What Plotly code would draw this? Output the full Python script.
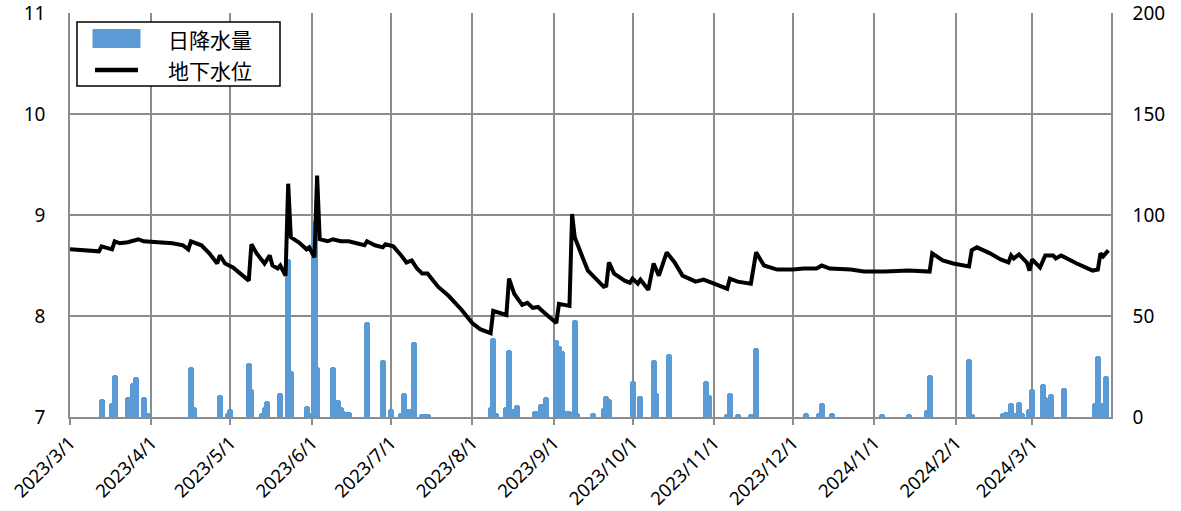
import plotly.graph_objects as go

# ---- data ----
rain_dates = [
    "2023-03-13", "2023-03-17", "2023-03-18", "2023-03-23", "2023-03-25", "2023-03-26", "2023-03-29", "2023-03-31",
    "2023-04-16", "2023-04-17", "2023-04-27", "2023-04-30", "2023-05-01", "2023-05-08", "2023-05-09", "2023-05-13",
    "2023-05-14", "2023-05-15", "2023-05-20", "2023-05-23", "2023-05-24", "2023-05-30", "2023-05-31", "2023-06-02",
    "2023-06-03", "2023-06-09", "2023-06-11", "2023-06-12", "2023-06-13", "2023-06-14", "2023-06-15", "2023-06-22",
    "2023-06-28", "2023-07-01", "2023-07-05", "2023-07-06", "2023-07-08", "2023-07-09", "2023-07-10", "2023-07-13",
    "2023-07-14", "2023-07-15", "2023-08-08", "2023-08-09", "2023-08-10", "2023-08-14", "2023-08-15", "2023-08-16",
    "2023-08-18", "2023-08-25", "2023-08-26", "2023-08-27", "2023-08-29", "2023-09-02", "2023-09-03", "2023-09-04",
    "2023-09-05", "2023-09-06", "2023-09-07", "2023-09-09", "2023-09-10", "2023-09-16", "2023-09-20", "2023-09-21",
    "2023-09-22", "2023-10-01", "2023-10-04", "2023-10-09", "2023-10-10", "2023-10-15", "2023-10-29", "2023-10-30",
    "2023-11-06", "2023-11-07", "2023-11-10", "2023-11-15", "2023-11-17", "2023-12-06", "2023-12-11", "2023-12-12",
    "2023-12-16", "2024-01-04", "2024-01-14", "2024-01-21", "2024-01-22", "2024-02-06", "2024-02-07", "2024-02-19",
    "2024-02-20", "2024-02-22", "2024-02-23", "2024-02-25", "2024-02-26", "2024-02-29", "2024-03-01", "2024-03-05",
    "2024-03-06", "2024-03-08", "2024-03-13", "2024-03-25", "2024-03-26", "2024-03-28", "2024-03-29",
]
rain_mm = [
    9, 7, 21, 10, 17, 20, 10, 2,
    25, 5, 11, 2, 4, 26.5, 14, 2,
    5, 8, 12, 78, 23, 5.6, 2, 97,
    25, 25, 8.5, 5, 3, 2.5, 2.5, 47,
    28, 4, 2, 12, 4, 4, 37, 1.5,
    1.5, 1.5, 5, 39, 2, 5, 33, 4,
    6, 3, 3, 6.5, 10, 38, 35, 32.5,
    3, 3, 3, 48, 2, 2, 4.5, 10.5,
    9, 18, 10.5, 28, 12, 31, 18, 11,
    1.5, 12, 1.5, 1.5, 34, 2, 2, 7,
    2, 1.5, 1.5, 3.5, 21, 28.5, 1.5, 2,
    2.5, 6.7, 2, 7.6, 2, 4, 14, 16.5,
    10, 11.3, 14.5, 6.7, 30, 7, 20.5,
]

gw_dates = [
    "2023-03-01", "2023-03-05", "2023-03-12", "2023-03-13", "2023-03-15", "2023-03-17", "2023-03-18", "2023-03-20",
    "2023-03-23", "2023-03-25", "2023-03-27", "2023-03-29", "2023-04-04", "2023-04-09", "2023-04-13", "2023-04-15",
    "2023-04-16", "2023-04-18", "2023-04-20", "2023-04-23", "2023-04-26", "2023-04-27", "2023-04-29", "2023-05-02",
    "2023-05-06", "2023-05-08", "2023-05-09", "2023-05-11", "2023-05-14", "2023-05-16", "2023-05-17", "2023-05-19",
    "2023-05-20", "2023-05-22", "2023-05-23", "2023-05-24", "2023-05-27", "2023-05-30", "2023-05-31", "2023-06-02",
    "2023-06-03", "2023-06-04", "2023-06-07", "2023-06-09", "2023-06-12", "2023-06-15", "2023-06-21", "2023-06-22",
    "2023-06-25", "2023-06-28", "2023-06-29", "2023-07-02", "2023-07-05", "2023-07-07", "2023-07-09", "2023-07-11",
    "2023-07-13", "2023-07-15", "2023-07-19", "2023-07-23", "2023-07-28", "2023-08-01", "2023-08-04", "2023-08-08",
    "2023-08-09", "2023-08-11", "2023-08-14", "2023-08-15", "2023-08-17", "2023-08-20", "2023-08-22", "2023-08-24",
    "2023-08-26", "2023-08-29", "2023-09-02", "2023-09-03", "2023-09-07", "2023-09-08", "2023-09-09", "2023-09-12",
    "2023-09-14", "2023-09-17", "2023-09-20", "2023-09-21", "2023-09-22", "2023-09-24", "2023-09-28", "2023-09-30",
    "2023-10-01", "2023-10-03", "2023-10-04", "2023-10-07", "2023-10-09", "2023-10-11", "2023-10-14", "2023-10-17",
    "2023-10-20", "2023-10-25", "2023-10-28", "2023-11-01", "2023-11-06", "2023-11-07", "2023-11-10", "2023-11-15",
    "2023-11-17", "2023-11-20", "2023-11-25", "2023-12-01", "2023-12-05", "2023-12-10", "2023-12-12", "2023-12-15",
    "2023-12-23", "2023-12-28", "2024-01-05", "2024-01-14", "2024-01-22", "2024-01-23", "2024-01-27", "2024-01-31",
    "2024-02-06", "2024-02-07", "2024-02-09", "2024-02-14", "2024-02-18", "2024-02-21", "2024-02-22", "2024-02-23",
    "2024-02-25", "2024-02-28", "2024-02-29", "2024-03-01", "2024-03-04", "2024-03-06", "2024-03-09", "2024-03-10",
    "2024-03-12", "2024-03-18", "2024-03-24", "2024-03-26", "2024-03-27", "2024-03-28", "2024-03-30",
]
gw_level = [
    8.66, 8.65, 8.64, 8.69, 8.67, 8.66, 8.74, 8.72,
    8.73, 8.74, 8.76, 8.74, 8.73, 8.72, 8.70, 8.66,
    8.74, 8.72, 8.70, 8.62, 8.52, 8.60, 8.52, 8.48,
    8.39, 8.35, 8.71, 8.62, 8.52, 8.60, 8.50, 8.47,
    8.50, 8.40, 9.31, 8.78, 8.73, 8.66, 8.68, 8.58,
    9.39, 8.76, 8.74, 8.76, 8.74, 8.74, 8.70, 8.74,
    8.70, 8.68, 8.71, 8.69, 8.60, 8.53, 8.55, 8.47,
    8.42, 8.42, 8.29, 8.20, 8.06, 7.93, 7.87, 7.83,
    8.05, 8.03, 8.01, 8.37, 8.22, 8.11, 8.13, 8.08,
    8.09, 8.02, 7.93, 8.12, 8.10, 9.01, 8.78, 8.58,
    8.45, 8.37, 8.29, 8.30, 8.53, 8.42, 8.35, 8.33,
    8.37, 8.32, 8.36, 8.26, 8.52, 8.40, 8.63, 8.53,
    8.40, 8.34, 8.36, 8.32, 8.27, 8.37, 8.34, 8.32,
    8.63, 8.50, 8.46, 8.46, 8.47, 8.47, 8.50, 8.47,
    8.46, 8.44, 8.44, 8.45, 8.44, 8.62, 8.55, 8.52,
    8.49, 8.65, 8.68, 8.62, 8.56, 8.53, 8.60, 8.57,
    8.61, 8.53, 8.45, 8.56, 8.48, 8.60, 8.60, 8.57,
    8.60, 8.52, 8.45, 8.46, 8.62, 8.59, 8.65,
]

tick_dates = ["2023-03-01", "2023-04-01", "2023-05-01", "2023-06-01", "2023-07-01", "2023-08-01", "2023-09-01",
              "2023-10-01", "2023-11-01", "2023-12-01", "2024-01-01", "2024-02-01", "2024-03-01"]
tick_labels = ["2023/3/1", "2023/4/1", "2023/5/1", "2023/6/1", "2023/7/1", "2023/8/1", "2023/9/1",
               "2023/10/1", "2023/11/1", "2023/12/1", "2024/1/1", "2024/2/1", "2024/3/1"]
legend_names = ["日降水量", "地下水位"]

DAY_MS = 86400000
GRID = "#8c8c8c"
BLUE = "#5B9BD5"
FONT = "Noto Sans, Noto Sans CJK JP, sans-serif"

W, H = 1181, 511
ML, MR, MT, MB = 70, 70, 13, 94
PW, PH = W - ML - MR, H - MT - MB


def px(x):
    return (x - ML) / PW


def py(y):
    return (H - MB - y) / PH


fig = go.Figure()
fig.add_trace(go.Bar(
    x=rain_dates, y=rain_mm, name=legend_names[0], yaxis="y",
    width=[2.3 * DAY_MS] * len(rain_dates),
    marker=dict(color=BLUE, line=dict(width=0), cornerradius=3),
    showlegend=False,
))
fig.add_trace(go.Scatter(
    x=gw_dates, y=gw_level, name=legend_names[1], yaxis="y2", mode="lines",
    line=dict(color="black", width=4),
    showlegend=False,
))

# legend drawn as shapes + text
shapes = [
    dict(type="rect", xref="paper", yref="paper", x0=px(77), x1=px(280), y0=py(86), y1=py(22),
         fillcolor="white", line=dict(color="black", width=1.5), layer="above"),
    dict(type="rect", xref="paper", yref="paper", x0=px(93), x1=px(140), y0=py(47.5), y1=py(29.5),
         fillcolor=BLUE, line=dict(color=BLUE, width=1), layer="above"),
    dict(type="line", xref="paper", yref="paper", x0=px(95), x1=px(138), y0=py(70), y1=py(70),
         line=dict(color="black", width=4.5), layer="above"),
]
annotations = [
    dict(xref="paper", yref="paper", x=px(166), y=py(39), text=legend_names[0], showarrow=False,
         xanchor="left", yanchor="middle", font=dict(size=21, family="Noto Sans CJK JP", color="black")),
    dict(xref="paper", yref="paper", x=px(166), y=py(69.5), text=legend_names[1], showarrow=False,
         xanchor="left", yanchor="middle", font=dict(size=21, family="Noto Sans CJK JP", color="black")),
]

fig.update_layout(
    width=W, height=H,
    margin=dict(l=ML, r=MR, t=MT, b=MB, autoexpand=False),
    paper_bgcolor="white", plot_bgcolor="white",
    font=dict(family=FONT, color="black"),
    bargap=0,
    showlegend=False,
    shapes=shapes,
    annotations=annotations,
    xaxis=dict(
        type="date", range=["2023-03-01", "2024-03-31"],
        tickvals=tick_dates, ticktext=tick_labels, tickangle=-45,
        tickfont=dict(size=18.5),
        showgrid=True, gridcolor=GRID, gridwidth=1.5,
        showline=True, linecolor=GRID, linewidth=1.5,
        ticks="outside", ticklen=6, tickcolor=GRID, tickwidth=1.5,
        zeroline=False, automargin=False,
    ),
    yaxis=dict(
        side="right", range=[0, 200.01], tickvals=[0, 50, 100, 150, 200],
        tickfont=dict(size=19),
        showgrid=True, gridcolor=GRID, gridwidth=1.5,
        showline=True, linecolor=GRID, linewidth=1.5,
        zeroline=False, ticks="", ticklabelstandoff=16, automargin=False,
        ticklabeloverflow="allow",
    ),
    yaxis2=dict(
        side="left", overlaying="y", range=[7, 11.0002], tickvals=[7, 8, 9, 10, 11],
        tickfont=dict(size=19),
        showgrid=False, showline=True, linecolor=GRID, linewidth=1.5,
        zeroline=False, ticks="", ticklabelstandoff=19, automargin=False,
        ticklabeloverflow="allow",
    ),
)

fig.write_html("out.html", config={"displayModeBar": False},
               post_script="document.body.style.margin='0px';")
